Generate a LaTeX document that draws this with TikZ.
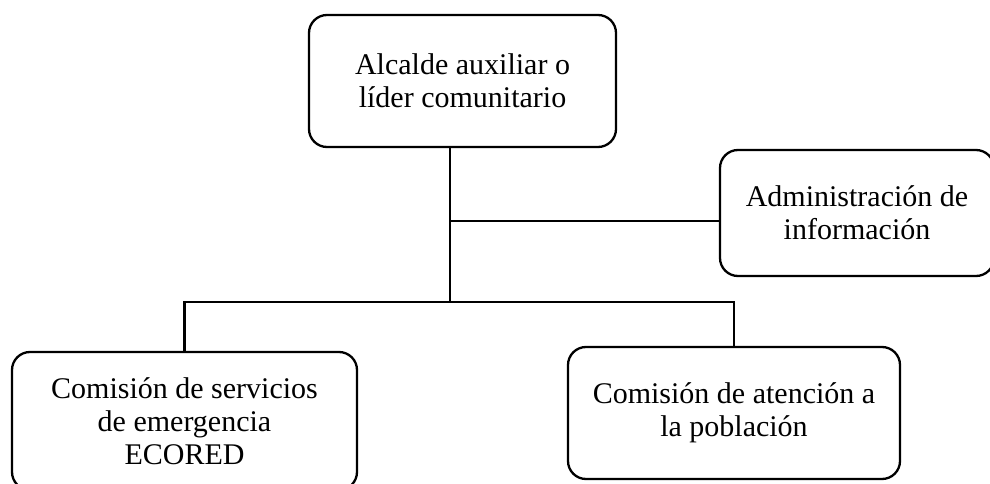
\documentclass[tikz,border=0pt]{standalone}
\usepackage{fontspec}
\setmainfont{Liberation Serif}
\begin{document}
\begin{tikzpicture}[x=1pt,y=-1pt,
        caja/.style={draw,rounded corners=18pt,line width=2.3pt,align=center,
            inner sep=0pt,font=\fontsize{30}{33}\selectfont},
        linea/.style={line width=2.3pt}]
            \useasboundingbox (0,0) rectangle (990,484);

            \node (alcalde) at (462.5, 81)[caja,minimum width=307pt,minimum height=132pt]{Alcalde auxiliar o\\líder comunitario};
            \node (admin) at (857, 213)[caja,minimum width=274pt,minimum height=126pt]{Administración de\\información};
            \node (ecored) at (184.5, 421)[caja,minimum width=345pt,minimum height=138pt]{Comisión de servicios\\de emergencia\\ECORED};
            \node (atencion) at (734, 413)[caja,minimum width=332pt,minimum height=132pt]{Comisión de atención a\\la población};

            \coordinate (junta) at (450, 302);
            \coordinate (rama) at (450, 221);

            \draw[linea] (alcalde.south -| junta) -- (junta);
            \draw[linea] (rama) -- (rama -| admin.west);
            \draw[linea] (ecored.north) -- (ecored.north |- junta) -- (atencion.north |- junta) -- (atencion.north);
        \end{tikzpicture}
\end{document}
